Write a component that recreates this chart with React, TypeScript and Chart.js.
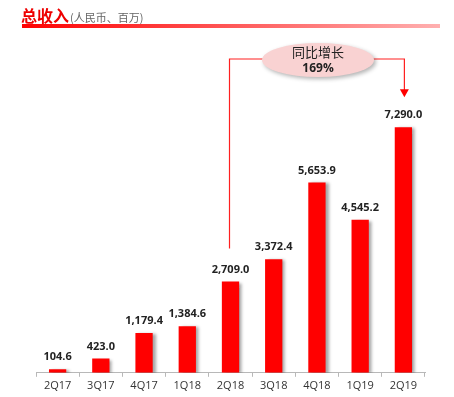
import React, { useEffect, useRef } from "react";
import { Chart, registerables } from "chart.js";

Chart.register(...registerables);

const categories = ["2Q17", "3Q17", "4Q17", "1Q18", "2Q18", "3Q18", "4Q18", "1Q19", "2Q19"];
const revenue = [104.6, 423.0, 1179.4, 1384.6, 2709.0, 3372.4, 5653.9, 4545.2, 7290.0];
const titleMain = "总收入";
const titleSub = "(人民币、百万)";
const calloutLine1 = "同比增长";
const calloutLine2 = "169%";
const growthFrom = 4;
const growthTo = 8;

const fmt = (v: number) =>
  v.toLocaleString("en-US", { minimumFractionDigits: 1, maximumFractionDigits: 1 });

const shadowPlugin = {
  id: "barShadow",
  beforeDatasetsDraw(chart: any) {
    const ctx = chart.ctx;
    ctx.save();
    ctx.shadowColor = "rgba(0,0,0,0.35)";
    ctx.shadowOffsetX = 3;
    ctx.shadowOffsetY = 1;
    ctx.shadowBlur = 3;
  },
  afterDatasetsDraw(chart: any) {
    chart.ctx.restore();
  },
};

const decorPlugin = {
  id: "decor",
  afterDraw(chart: any) {
    const ctx = chart.ctx;
    const meta = chart.getDatasetMeta(0);
    // value labels
    ctx.save();
    ctx.font = "bold 11px 'Open Sans', 'Liberation Sans', sans-serif";
    ctx.fillStyle = "#222";
    ctx.textAlign = "center";
    ctx.textBaseline = "middle";
    meta.data.forEach((bar: any, i: number) => {
      ctx.fillText(fmt(revenue[i]), bar.x, bar.y - 12);
    });
    ctx.restore();

    // title
    ctx.save();
    ctx.textBaseline = "alphabetic";
    ctx.textAlign = "left";
    ctx.font = "bold 16px 'Noto Sans CJK SC', sans-serif";
    ctx.fillStyle = "#ee0000";
    ctx.fillText(titleMain, 21, 22);
    const w = ctx.measureText(titleMain).width;
    ctx.font = "11px 'Noto Sans CJK SC', sans-serif";
    ctx.fillStyle = "#666";
    ctx.fillText(titleSub, 21 + w + 1, 22);
    const grad = ctx.createLinearGradient(22, 0, 440, 0);
    grad.addColorStop(0, "#ff0000");
    grad.addColorStop(1, "#ffb0b0");
    ctx.fillStyle = grad;
    ctx.fillRect(22, 24, 418, 4);
    ctx.restore();

    // callout connectors
    const b1 = meta.data[growthFrom];
    const b2 = meta.data[growthTo];
    const cy = 59;
    const ex = 318, ey = 60, rx = 56, ry = 17;
    ctx.save();
    ctx.strokeStyle = "#ff2020";
    ctx.lineWidth = 1.2;
    ctx.beginPath();
    ctx.moveTo(b1.x - 1, b1.y - 33);
    ctx.lineTo(b1.x - 1, cy);
    ctx.lineTo(ex - rx + 2, cy);
    ctx.moveTo(ex + rx - 2, cy);
    ctx.lineTo(b2.x + 1, cy);
    ctx.lineTo(b2.x + 1, b2.y - 37);
    ctx.stroke();
    ctx.fillStyle = "#ff0000";
    ctx.beginPath();
    ctx.moveTo(b2.x + 1 - 4.5, b2.y - 38);
    ctx.lineTo(b2.x + 1 + 4.5, b2.y - 38);
    ctx.lineTo(b2.x + 1, b2.y - 30);
    ctx.closePath();
    ctx.fill();
    ctx.restore();

    // ellipse
    ctx.save();
    ctx.shadowColor = "rgba(0,0,0,0.3)";
    ctx.shadowOffsetX = 2;
    ctx.shadowOffsetY = 2;
    ctx.shadowBlur = 4;
    ctx.fillStyle = "#f9d2d2";
    ctx.beginPath();
    ctx.ellipse(ex, ey, rx, ry, 0, 0, Math.PI * 2);
    ctx.fill();
    ctx.restore();
    ctx.save();
    ctx.fillStyle = "#222";
    ctx.textAlign = "center";
    ctx.textBaseline = "middle";
    ctx.font = "13px 'Noto Sans CJK SC', sans-serif";
    ctx.fillText(calloutLine1, ex, ey - 8);
    ctx.font = "bold 12px 'Open Sans', 'Liberation Sans', sans-serif";
    ctx.fillText(calloutLine2, ex, ey + 9);
    ctx.restore();
  },
};

export default function App() {
  const ref = useRef<HTMLCanvasElement>(null);
  useEffect(() => {
    if (!ref.current) return;
    const chart = new Chart(ref.current, {
      type: "bar",
      data: {
        labels: categories,
        datasets: [
          {
            data: revenue,
            backgroundColor: "#ff0000",
            borderWidth: 0,
            categoryPercentage: 1,
            barPercentage: 0.4,
          },
        ],
      },
      options: {
        animation: false,
        responsive: false,
        maintainAspectRatio: false,
        layout: { padding: { left: 36, right: 29, top: 100, bottom: 3 } },
        plugins: { legend: { display: false }, tooltip: { enabled: false }, title: { display: false } },
        scales: {
          x: {
            grid: {
              display: true,
              drawOnChartArea: false,
              drawTicks: true,
              tickLength: 4,
              color: "#b8b8b8",
              offset: true,
            },
            border: { display: true, color: "#b8b8b8" },
            ticks: {
              color: "#333",
              padding: 2,
              font: { size: 11, family: "'Open Sans', 'Liberation Sans', sans-serif" },
            },
          },
          y: { display: false, min: 0, max: 8100 },
        },
      },
      plugins: [shadowPlugin, decorPlugin],
    });
    return () => chart.destroy();
  }, []);
  return (
    <div style={{ position: "fixed", left: 0, top: 0, width: 454, height: 397, background: "#fff" }}>
      <canvas ref={ref} width={454} height={397} style={{ width: 454, height: 397 }} />
    </div>
  );
}
